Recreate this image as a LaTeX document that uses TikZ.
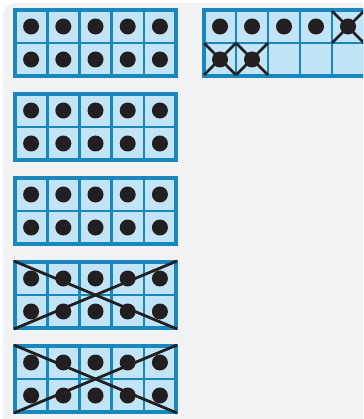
\documentclass[tikz,border=0pt]{standalone}
\definecolor{frameblue}{HTML}{1A86BE}
\definecolor{cellblue}{HTML}{C2E4F7}
\definecolor{dotblack}{HTML}{231F20}
\definecolor{bggray}{HTML}{F1F2F3}
\tikzset{
  gridline/.style={draw=frameblue, line width=2.6pt},
  framebox/.style={draw=frameblue, line width=3.6pt},
  crossline/.style={draw=dotblack, line width=2.8pt},
  counter/.style={fill=dotblack},
}
\begin{document}
\begin{tikzpicture}[x=1pt,y=-1pt]
\useasboundingbox (0,0) rectangle (363,419);
\fill[white] (0,0) rectangle (363,419);
\clip (0,0) rectangle (363,419);
\fill[bggray, rounded corners=12pt] (3,3) rectangle (390,440);
% left column of full ten-frames
\foreach \t in {10,94,178,262,346} {
  \fill[cellblue] (15,\t) rectangle ++(161,66);
  \foreach \i in {1,...,4} \draw[gridline] (15+\i*32.2,\t) -- ++(0,66);
  \draw[gridline] (15,\t+33) -- ++(161,0);
  \draw[framebox] (15,\t) rectangle ++(161,66);
  \foreach \i in {0,...,4} \foreach \j in {0,1}
    \fill[counter] (15+16.1+\i*32.2,\t+16.5+\j*33) circle[radius=8pt];
}
% crossed-out frames
\foreach \t in {262,346} {
  \draw[crossline] (14,\t-1) -- (177,\t+67);
  \draw[crossline] (14,\t+67) -- (177,\t-1);
}
% top-right partial frame
\fill[cellblue] (204,10) rectangle (380,76);
\foreach \i in {1,...,5} \draw[gridline] (204+\i*32,10) -- ++(0,66);
\draw[gridline] (204,43) -- (380,43);
\draw[framebox] (204,10) rectangle (380,76);
\foreach \i in {0,...,4}
  \fill[counter] (204+16+\i*32,26.5) circle[radius=8pt];
\foreach \i in {0,1}
  \fill[counter] (204+16+\i*32,59.5) circle[radius=8pt];
% crosses on the taken-away counters
\draw[crossline] (332,11) -- (364,43);
\draw[crossline] (332,43) -- (364,11);
\foreach \i in {0,1} {
  \draw[crossline] (204+\i*32,43) -- (236+\i*32,75);
  \draw[crossline] (204+\i*32,75) -- (236+\i*32,43);
}
\end{tikzpicture}
\end{document}
